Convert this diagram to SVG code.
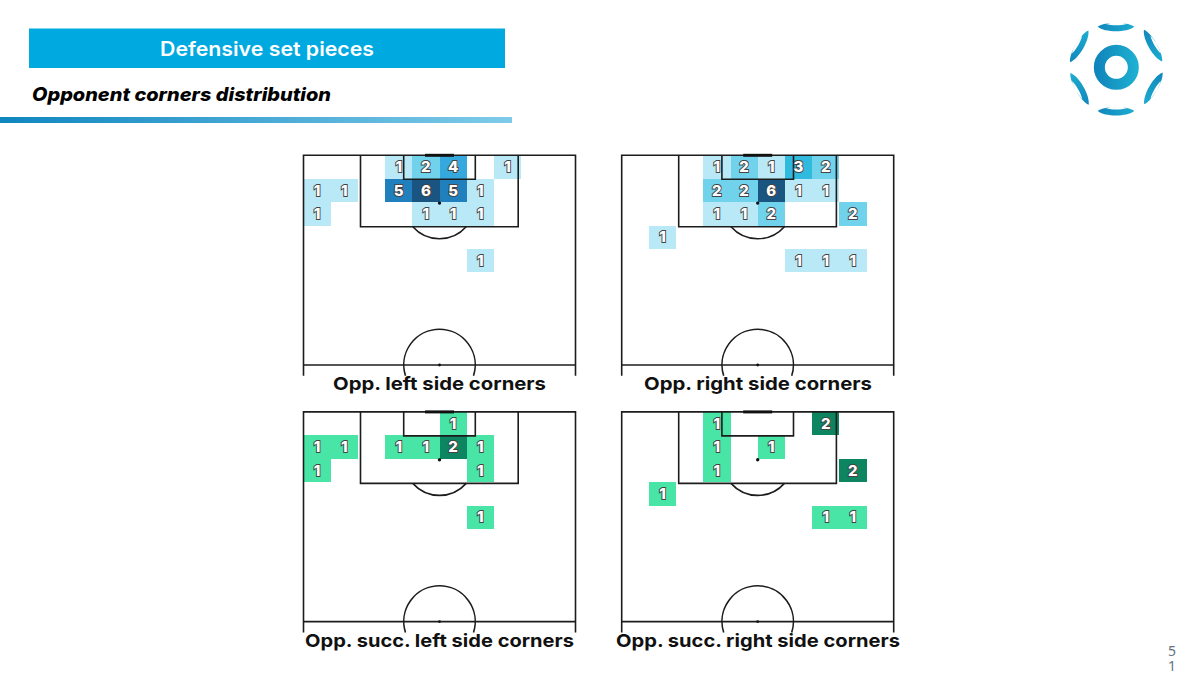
<svg xmlns="http://www.w3.org/2000/svg" xmlns:xlink="http://www.w3.org/1999/xlink" width="1196" height="673" viewBox="0 0 1196 673">
<style>
.ln{fill:none;stroke:#1c1c1c;stroke-width:1.6}
.n{font-family:Inter,"Liberation Sans",sans-serif;font-weight:800;font-size:15px;fill:#fff;stroke:#444;stroke-width:1.8px;paint-order:stroke;text-anchor:middle}
.lab{font-family:Inter,"Liberation Sans",sans-serif;font-weight:700;font-size:18px;fill:#111}
.b1{fill:#b9e9f6}.b2{fill:#71d2ec}.b3{fill:#2fbade}.b4{fill:#35a9dd}.b5{fill:#1f80bd}.b6{fill:#1a5480}
.g1{fill:#48e5a6}.g2{fill:#0d8560}
.c{width:27.2px;height:23.4px;shape-rendering:crispEdges}
.lg{fill:url(#lgGrad)}
</style>
<defs>
<linearGradient id="bar" x1="0" x2="1" y1="0" y2="0"><stop offset="0" stop-color="#0f86c0"/><stop offset="1" stop-color="#7fcbe9"/></linearGradient>
<linearGradient id="lgGrad" gradientUnits="userSpaceOnUse" x1="130" x2="268" y1="172" y2="172"><stop offset="0" stop-color="#0f82ba"/><stop offset="1" stop-color="#1fb2d2"/></linearGradient>
<g id="pitch">
<path class="ln" d="M0 220.5V0H272V220.5M0 209.7H272M57 0V71.5H214.7V0M100.2 0V24H171.8V0"/>
<path class="ln" d="M109.3 71.5A35.7 35.7 0 0 0 162.7 71.5"/>
<path class="ln" d="M102 220.5A35.7 35.7 0 1 1 170 220.5"/>
<path d="M121.5 0H150.5" stroke="#111" stroke-width="3" fill="none"/>
<circle cx="136" cy="47.8" r="1.7" fill="#111"/>
<circle cx="136" cy="209.7" r="1.4" fill="#111"/>
</g>
<g id="seg"><path class="lg" d="M143 50C165 34 231 34 253 50C231 68 165 68 143 50ZM168 42C185 47 212 47 230 42C212 37 185 37 168 42Z" fill-rule="evenodd"/></g>
</defs>
<rect width="1196" height="673" fill="#fff"/>
<g id="header">
<rect x="29" y="28.5" width="476" height="39.5" fill="#00a9e0"/>
<text x="267" y="56" text-anchor="middle" textLength="214" lengthAdjust="spacingAndGlyphs" font-family="Inter,'Liberation Sans',sans-serif" font-weight="600" font-size="20" fill="#fff">Defensive set pieces</text>
<text x="32" y="100.5" textLength="299" lengthAdjust="spacingAndGlyphs" font-family="Inter,'Liberation Sans',sans-serif" font-weight="800" font-style="italic" font-size="18.5" fill="#000">Opponent corners distribution</text>
<rect x="0" y="117" width="512" height="6" fill="url(#bar)"/>
</g>
<g id="logo" transform="translate(1050 10) scale(.3333)">
<circle cx="199" cy="172" r="51" fill="none" stroke="url(#lgGrad)" stroke-width="33"/>
<use xlink:href="#seg" href="#seg"/>
<use xlink:href="#seg" href="#seg" transform="rotate(60 199 172) translate(0 -6)"/>
<use xlink:href="#seg" href="#seg" transform="rotate(120 199 172) translate(0 -6)"/>
<use xlink:href="#seg" href="#seg" transform="translate(0 253)"/>
<use xlink:href="#seg" href="#seg" transform="rotate(240 199 172) translate(0 -6)"/>
<use xlink:href="#seg" href="#seg" transform="rotate(300 199 172) translate(0 -6)"/>
</g>

<g id="panel-left" transform="translate(303.5 155.3)">
<rect class="c b1" x="81.6" y="0"/><rect class="c b2" x="108.8" y="0"/><rect class="c b4" x="136" y="0"/><rect class="c b1" x="190.4" y="0"/>
<rect class="c b1" x="0" y="23.4"/><rect class="c b1" x="27.2" y="23.4"/><rect class="c b5" x="81.6" y="23.4"/><rect class="c b6" x="108.8" y="23.4"/><rect class="c b5" x="136" y="23.4"/><rect class="c b1" x="163.2" y="23.4"/>
<rect class="c b1" x="0" y="46.8"/><rect class="c b1" x="108.8" y="46.8"/><rect class="c b1" x="136" y="46.8"/><rect class="c b1" x="163.2" y="46.8"/>
<rect class="c b1" x="163.2" y="93.6"/>
<use xlink:href="#pitch" href="#pitch"/>
<text class="n" x="95.2" y="16.9">1</text><text class="n" x="122.4" y="16.9">2</text><text class="n" x="149.6" y="16.9">4</text><text class="n" x="204" y="16.9">1</text>
<text class="n" x="13.6" y="40.3">1</text><text class="n" x="40.8" y="40.3">1</text><text class="n" x="95.2" y="40.3">5</text><text class="n" x="122.4" y="40.3">6</text><text class="n" x="149.6" y="40.3">5</text><text class="n" x="176.8" y="40.3">1</text>
<text class="n" x="13.6" y="63.7">1</text><text class="n" x="122.4" y="63.7">1</text><text class="n" x="149.6" y="63.7">1</text><text class="n" x="176.8" y="63.7">1</text>
<text class="n" x="176.8" y="110.5">1</text>
</g>
<text class="lab" x="333" y="389.5" textLength="213" lengthAdjust="spacingAndGlyphs">Opp. left side corners</text>

<g id="panel-right" transform="translate(621.7 155.3)">
<rect class="c b1" x="81.6" y="0"/><rect class="c b2" x="108.8" y="0"/><rect class="c b1" x="136" y="0"/><rect class="c b3" x="163.2" y="0"/><rect class="c b2" x="190.4" y="0"/>
<rect class="c b2" x="81.6" y="23.4"/><rect class="c b2" x="108.8" y="23.4"/><rect class="c b6" x="136" y="23.4"/><rect class="c b1" x="163.2" y="23.4"/><rect class="c b1" x="190.4" y="23.4"/>
<rect class="c b1" x="81.6" y="46.8"/><rect class="c b1" x="108.8" y="46.8"/><rect class="c b2" x="136" y="46.8"/><rect class="c b2" x="217.6" y="46.8"/>
<rect class="c b1" x="27.2" y="70.2"/>
<rect class="c b1" x="163.2" y="93.6"/><rect class="c b1" x="190.4" y="93.6"/><rect class="c b1" x="217.6" y="93.6"/>
<use xlink:href="#pitch" href="#pitch"/>
<text class="n" x="95.2" y="16.9">1</text><text class="n" x="122.4" y="16.9">2</text><text class="n" x="149.6" y="16.9">1</text><text class="n" x="176.8" y="16.9">3</text><text class="n" x="204" y="16.9">2</text>
<text class="n" x="95.2" y="40.3">2</text><text class="n" x="122.4" y="40.3">2</text><text class="n" x="149.6" y="40.3">6</text><text class="n" x="176.8" y="40.3">1</text><text class="n" x="204" y="40.3">1</text>
<text class="n" x="95.2" y="63.7">1</text><text class="n" x="122.4" y="63.7">1</text><text class="n" x="149.6" y="63.7">2</text><text class="n" x="231.2" y="63.7">2</text>
<text class="n" x="40.8" y="87.1">1</text>
<text class="n" x="176.8" y="110.5">1</text><text class="n" x="204" y="110.5">1</text><text class="n" x="231.2" y="110.5">1</text>
</g>
<text class="lab" x="644" y="389.5" textLength="228" lengthAdjust="spacingAndGlyphs">Opp. right side corners</text>

<g id="panel-succ-left" transform="translate(303.5 411.9)">
<rect class="c g1" x="136" y="0"/>
<rect class="c g1" x="0" y="23.4"/><rect class="c g1" x="27.2" y="23.4"/><rect class="c g1" x="81.6" y="23.4"/><rect class="c g1" x="108.8" y="23.4"/><rect class="c g2" x="136" y="23.4"/><rect class="c g1" x="163.2" y="23.4"/>
<rect class="c g1" x="0" y="46.8"/><rect class="c g1" x="163.2" y="46.8"/>
<rect class="c g1" x="163.2" y="93.6"/>
<use xlink:href="#pitch" href="#pitch"/>
<text class="n" x="149.6" y="16.9">1</text>
<text class="n" x="13.6" y="40.3">1</text><text class="n" x="40.8" y="40.3">1</text><text class="n" x="95.2" y="40.3">1</text><text class="n" x="122.4" y="40.3">1</text><text class="n" x="149.6" y="40.3">2</text><text class="n" x="176.8" y="40.3">1</text>
<text class="n" x="13.6" y="63.7">1</text><text class="n" x="176.8" y="63.7">1</text>
<text class="n" x="176.8" y="110.5">1</text>
</g>
<text class="lab" x="305" y="646.5" textLength="269" lengthAdjust="spacingAndGlyphs">Opp. succ. left side corners</text>

<g id="panel-succ-right" transform="translate(621.7 411.9)">
<rect class="c g1" x="81.6" y="0"/><rect class="c g2" x="190.4" y="0"/>
<rect class="c g1" x="81.6" y="23.4"/><rect class="c g1" x="136" y="23.4"/>
<rect class="c g1" x="81.6" y="46.8"/><rect class="c g2" x="217.6" y="46.8"/>
<rect class="c g1" x="27.2" y="70.2"/>
<rect class="c g1" x="190.4" y="93.6"/><rect class="c g1" x="217.6" y="93.6"/>
<use xlink:href="#pitch" href="#pitch"/>
<text class="n" x="95.2" y="16.9">1</text><text class="n" x="204" y="16.9">2</text>
<text class="n" x="95.2" y="40.3">1</text><text class="n" x="149.6" y="40.3">1</text>
<text class="n" x="95.2" y="63.7">1</text><text class="n" x="231.2" y="63.7">2</text>
<text class="n" x="40.8" y="87.1">1</text>
<text class="n" x="204" y="110.5">1</text><text class="n" x="231.2" y="110.5">1</text>
</g>
<text class="lab" x="616" y="646.5" textLength="284" lengthAdjust="spacingAndGlyphs">Opp. succ. right side corners</text>

<g id="page" font-family="'Noto Sans','Open Sans',sans-serif" font-size="14" fill="#66727f" text-anchor="middle">
<text x="1172" y="656">5</text>
<text x="1172" y="671">1</text>
</g>
</svg>
